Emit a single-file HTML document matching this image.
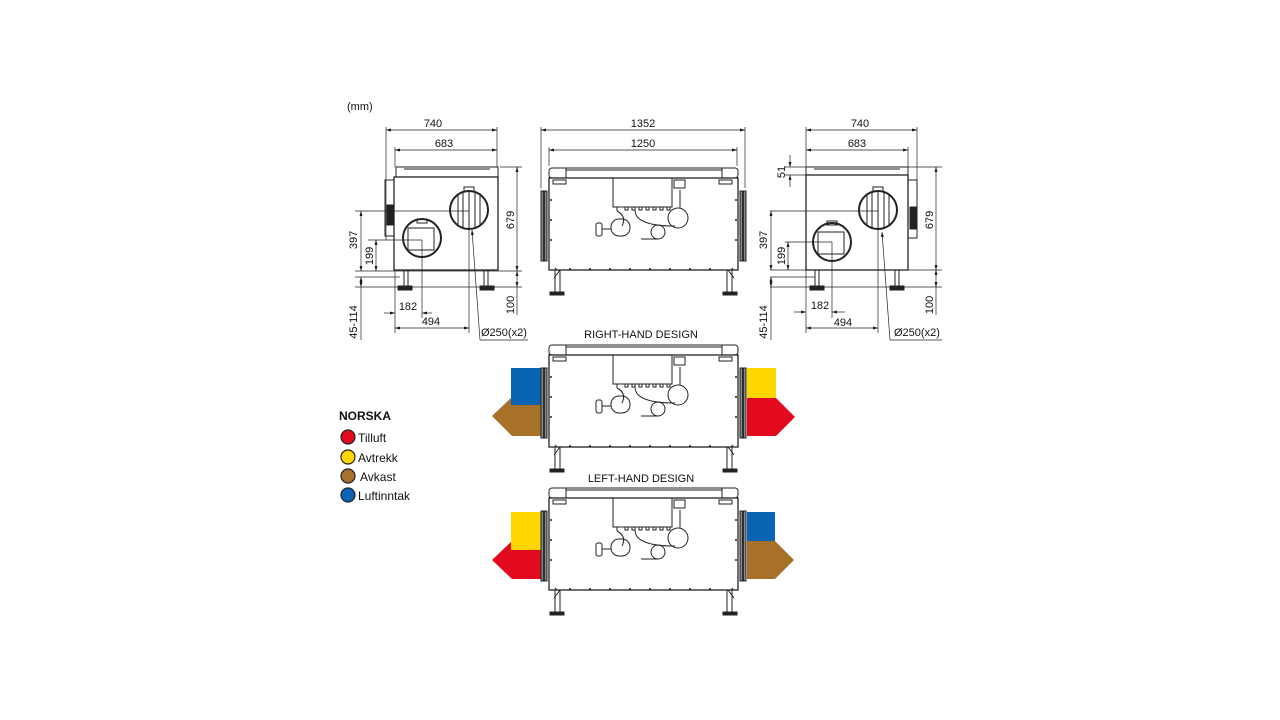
<!DOCTYPE html>
<html><head><meta charset="utf-8"><style>
html,body{margin:0;padding:0;background:#fff;}
svg{display:block;font-family:"Liberation Sans",sans-serif;}
text{font-size:11px;fill:#111;}
</style></head><body>
<svg width="1280" height="720" viewBox="0 0 1280 720" xmlns="http://www.w3.org/2000/svg">
<defs>
<marker id="a" viewBox="0 0 10 10" refX="10" refY="5" markerWidth="7" markerHeight="7" orient="auto-start-reverse"><path d="M0,2 L10,5 L0,8 z" fill="#111"/></marker>
<g id="unit" stroke="#222" fill="none" stroke-width="1">
  <rect x="549" y="168" width="189" height="10" rx="3" fill="#fff"/>
  <line x1="566" y1="170" x2="722" y2="170"/>
  <line x1="566" y1="168" x2="566" y2="178"/><line x1="722" y1="168" x2="722" y2="178"/>
  <rect x="549" y="178" width="189" height="92" fill="#fff" stroke-width="1.3"/>
  <rect x="553" y="180" width="13" height="4"/><rect x="719" y="180" width="13" height="4"/>
  <rect x="541" y="191" width="6" height="70" fill="#888" stroke="#222"/>
  <line x1="544" y1="191" x2="544" y2="261" stroke="#111" stroke-width="1.5"/>
  <rect x="740" y="191" width="6" height="70" fill="#888" stroke="#222"/>
  <line x1="743" y1="191" x2="743" y2="261" stroke="#111" stroke-width="1.5"/>
  <rect x="613" y="178" width="59" height="29"/>
  <rect x="674" y="180" width="11" height="8"/>
  <path d="M617 207 v4 M625 207 h3 v3 h-3z M632 207 h3 v3 h-3z M639 207 h3 v3 h-3z M646 207 h3 v3 h-3z M653 207 h3 v3 h-3z M660 207 h3 v3 h-3z M667 207 h3 v3 h-3z"/>
  <circle cx="678" cy="218" r="10"/><circle cx="658" cy="232" r="7"/>
  <path d="M635 210 q0 16 40 16 M680 190 v18 M617 211 q10 5 5 15 M641 239 h18"/>
  <rect x="611" y="219" width="19" height="17" rx="8"/>
  <rect x="596" y="223" width="6" height="13" rx="2"/><path d="M602 229 h9"/>
  <path d="M557 270 l-2 -2 M731 270 l2 -2 M560 270 l-6 8 M728 270 l6 8"/>
  <rect x="555" y="270" width="5" height="22"/><rect x="727" y="270" width="5" height="22"/>
  <rect x="550" y="292" width="14" height="3" fill="#222"/><rect x="723" y="292" width="14" height="3" fill="#222"/>
  <g fill="#222" stroke="none"><circle cx="570" cy="269" r="1"/><circle cx="590" cy="269" r="1"/><circle cx="610" cy="269" r="1"/><circle cx="630" cy="269" r="1"/><circle cx="650" cy="269" r="1"/><circle cx="670" cy="269" r="1"/><circle cx="690" cy="269" r="1"/><circle cx="710" cy="269" r="1"/><circle cx="551" cy="200" r="1"/><circle cx="551" cy="220" r="1"/><circle cx="551" cy="240" r="1"/><circle cx="736" cy="200" r="1"/><circle cx="736" cy="220" r="1"/><circle cx="736" cy="240" r="1"/></g>
</g>
</defs>

<text x="347" y="110">(mm)</text>

<!-- Left side view -->
<g stroke="#222" fill="none" stroke-width="1">
  <rect x="396" y="167" width="102" height="10" fill="#fff"/>
  <line x1="404" y1="169" x2="490" y2="169"/>
  <rect x="394" y="177" width="104" height="93" stroke-width="1.3"/>
  <rect x="385" y="180" width="9" height="56"/>
  <rect x="387" y="205" width="6" height="20" fill="#222"/>
  <circle cx="469" cy="210" r="19" stroke-width="2"/>
  <path d="M458 195 v30 M463 192 v36 M469 191 v38 M475 192 v36 M480 195 v30"/>
  <circle cx="422" cy="238" r="19" stroke-width="2"/>
  <rect x="408" y="228" width="26" height="22"/>
  <rect x="464" y="187" width="10" height="4"/><rect x="417" y="219" width="10" height="4"/>
  <rect x="404" y="270" width="4" height="16"/><rect x="484" y="270" width="4" height="16"/>
  <rect x="398" y="286" width="14" height="4" fill="#222"/><rect x="480" y="286" width="14" height="4" fill="#222"/>
  <g stroke-width="0.7">
  <line x1="386" y1="127" x2="386" y2="240"/><line x1="497" y1="127" x2="497" y2="167"/>
  <line x1="395" y1="147" x2="395" y2="167"/>
  <line x1="386" y1="130" x2="497" y2="130" marker-start="url(#a)" marker-end="url(#a)"/>
  <line x1="395" y1="150" x2="497" y2="150" marker-start="url(#a)" marker-end="url(#a)"/>
  <line x1="500" y1="167" x2="522" y2="167"/><line x1="355" y1="271" x2="522" y2="271"/>
  <line x1="517" y1="167" x2="517" y2="271" marker-start="url(#a)" marker-end="url(#a)"/>
  <line x1="355" y1="287" x2="522" y2="287"/><line x1="355" y1="277" x2="400" y2="277"/>
  <line x1="517" y1="271" x2="517" y2="287" marker-start="url(#a)" marker-end="url(#a)"/>
  <line x1="517" y1="287" x2="517" y2="315"/>
  <line x1="355" y1="211" x2="469" y2="211"/><line x1="368" y1="240" x2="422" y2="240"/>
  <line x1="361" y1="211" x2="361" y2="271" marker-start="url(#a)" marker-end="url(#a)"/>
  <line x1="376" y1="240" x2="376" y2="271" marker-start="url(#a)" marker-end="url(#a)"/>
  <line x1="361" y1="277" x2="361" y2="287" marker-start="url(#a)" marker-end="url(#a)"/>
  <line x1="361" y1="287" x2="361" y2="340"/>
  <line x1="422" y1="240" x2="422" y2="318"/><line x1="469" y1="211" x2="469" y2="333"/>
  <line x1="395" y1="271" x2="395" y2="333"/>
  <line x1="384" y1="313" x2="395" y2="313" marker-end="url(#a)"/><line x1="432" y1="313" x2="422" y2="313" marker-end="url(#a)"/>
  <line x1="395" y1="328" x2="469" y2="328" marker-start="url(#a)" marker-end="url(#a)"/>
  <line x1="480" y1="340" x2="472" y2="230" marker-end="url(#a)"/><line x1="480" y1="340" x2="528" y2="340"/>
  </g>
</g>
<text x="433" y="127" text-anchor="middle">740</text>
<text x="444" y="147" text-anchor="middle">683</text>
<text x="408" y="310" text-anchor="middle">182</text>
<text x="431" y="325" text-anchor="middle">494</text>
<text x="481" y="336">Ø250(x2)</text>
<text transform="translate(514,220) rotate(-90)" text-anchor="middle">679</text>
<text transform="translate(514,305) rotate(-90)" text-anchor="middle">100</text>
<text transform="translate(357,240) rotate(-90)" text-anchor="middle">397</text>
<text transform="translate(373,256) rotate(-90)" text-anchor="middle">199</text>
<text transform="translate(357,322) rotate(-90)" text-anchor="middle">45-114</text>

<!-- Right side view -->
<g stroke="#222" fill="none" stroke-width="1">
  <rect x="806" y="167" width="102" height="8" fill="#fff"/>
  <line x1="814" y1="169" x2="900" y2="169"/>
  <rect x="806" y="175" width="102" height="95" stroke-width="1.3"/>
  <rect x="908" y="180" width="9" height="58"/>
  <rect x="910" y="207" width="6" height="22" fill="#222"/>
  <circle cx="878" cy="210" r="19" stroke-width="2"/>
  <path d="M867 195 v30 M872 192 v36 M878 191 v38 M884 192 v36 M889 195 v30"/>
  <circle cx="832" cy="242" r="19" stroke-width="2"/>
  <rect x="818" y="232" width="26" height="22"/>
  <rect x="873" y="187" width="10" height="4"/><rect x="827" y="221" width="10" height="4"/>
  <rect x="815" y="270" width="4" height="16"/><rect x="895" y="270" width="4" height="16"/>
  <rect x="810" y="286" width="14" height="4" fill="#222"/><rect x="890" y="286" width="14" height="4" fill="#222"/>
  <g stroke-width="0.7">
  <line x1="806" y1="127" x2="806" y2="167"/><line x1="917" y1="127" x2="917" y2="180"/><line x1="908" y1="147" x2="908" y2="167"/>
  <line x1="806" y1="130" x2="917" y2="130" marker-start="url(#a)" marker-end="url(#a)"/>
  <line x1="806" y1="150" x2="908" y2="150" marker-start="url(#a)" marker-end="url(#a)"/>
  <line x1="785" y1="167" x2="942" y2="167"/><line x1="785" y1="175" x2="806" y2="175"/>
  <line x1="790" y1="155" x2="790" y2="167" marker-end="url(#a)"/><line x1="790" y1="187" x2="790" y2="175" marker-end="url(#a)"/>
  <line x1="936" y1="167" x2="936" y2="270" marker-start="url(#a)" marker-end="url(#a)"/>
  <line x1="770" y1="270" x2="942" y2="270"/><line x1="770" y1="287" x2="942" y2="287"/><line x1="770" y1="277" x2="815" y2="277"/>
  <line x1="936" y1="270" x2="936" y2="287" marker-start="url(#a)" marker-end="url(#a)"/>
  <line x1="936" y1="287" x2="936" y2="315"/>
  <line x1="770" y1="211" x2="878" y2="211"/><line x1="785" y1="242" x2="832" y2="242"/>
  <line x1="771" y1="211" x2="771" y2="270" marker-start="url(#a)" marker-end="url(#a)"/>
  <line x1="788" y1="242" x2="788" y2="270" marker-start="url(#a)" marker-end="url(#a)"/>
  <line x1="771" y1="277" x2="771" y2="287" marker-start="url(#a)" marker-end="url(#a)"/>
  <line x1="771" y1="287" x2="771" y2="340"/>
  <line x1="832" y1="242" x2="832" y2="318"/><line x1="878" y1="211" x2="878" y2="333"/><line x1="806" y1="270" x2="806" y2="333"/>
  <line x1="794" y1="312" x2="806" y2="312" marker-end="url(#a)"/><line x1="845" y1="312" x2="832" y2="312" marker-end="url(#a)"/>
  <line x1="806" y1="328" x2="878" y2="328" marker-start="url(#a)" marker-end="url(#a)"/>
  <line x1="890" y1="340" x2="882" y2="232" marker-end="url(#a)"/><line x1="890" y1="340" x2="942" y2="340"/>
  </g>
</g>
<text x="860" y="127" text-anchor="middle">740</text>
<text x="857" y="147" text-anchor="middle">683</text>
<text x="820" y="309" text-anchor="middle">182</text>
<text x="843" y="326" text-anchor="middle">494</text>
<text x="894" y="336">Ø250(x2)</text>
<text transform="translate(785,172) rotate(-90)" text-anchor="middle">51</text>
<text transform="translate(933,220) rotate(-90)" text-anchor="middle">679</text>
<text transform="translate(933,305) rotate(-90)" text-anchor="middle">100</text>
<text transform="translate(767,240) rotate(-90)" text-anchor="middle">397</text>
<text transform="translate(785,256) rotate(-90)" text-anchor="middle">199</text>
<text transform="translate(767,322) rotate(-90)" text-anchor="middle">45-114</text>

<!-- Front view top -->
<use href="#unit"/>
<g stroke="#222" stroke-width="0.7" fill="none">
  <line x1="541" y1="127" x2="541" y2="188"/><line x1="745" y1="127" x2="745" y2="188"/>
  <line x1="549" y1="147" x2="549" y2="166"/><line x1="737" y1="147" x2="737" y2="166"/>
  <line x1="541" y1="130" x2="745" y2="130" marker-start="url(#a)" marker-end="url(#a)"/>
  <line x1="549" y1="150" x2="737" y2="150" marker-start="url(#a)" marker-end="url(#a)"/>
</g>
<text x="643" y="127" text-anchor="middle">1352</text>
<text x="643" y="147" text-anchor="middle">1250</text>

<!-- Right-hand design -->
<text x="641" y="338" text-anchor="middle">RIGHT-HAND DESIGN</text>
<polygon points="512,397 541,397 541,436 512,436 492,416" fill="#a8712a"/>
<rect x="511" y="368" width="30" height="37" fill="#0a64b4"/>
<rect x="747" y="368" width="29" height="30" fill="#ffd600"/>
<polygon points="747,398 776,398 795,417 776,436 747,436" fill="#e30a20"/>
<use href="#unit" y="177"/>

<!-- Left-hand design -->
<text x="641" y="482" text-anchor="middle">LEFT-HAND DESIGN</text>
<polygon points="512,541 541,541 541,579 512,579 492,560" fill="#e30a20"/>
<rect x="511" y="512" width="30" height="38" fill="#ffd600"/>
<rect x="747" y="512" width="28" height="29" fill="#0a64b4"/>
<polygon points="747,541 775,541 794,560 775,579 747,579" fill="#a8712a"/>
<use href="#unit" y="320"/>

<!-- Legend -->
<text x="339" y="420" style="font-size:12px;font-weight:bold">NORSKA</text>
<g stroke="#222" stroke-width="1.2">
<circle cx="348" cy="437" r="7" fill="#e30a20"/>
<circle cx="348" cy="457" r="7" fill="#ffd600"/>
<circle cx="348" cy="476" r="7" fill="#a8712a"/>
<circle cx="348" cy="495" r="7" fill="#0a64b4"/>
</g>
<text x="358" y="442" style="font-size:12px">Tilluft</text>
<text x="358" y="462" style="font-size:12px">Avtrekk</text>
<text x="360" y="481" style="font-size:12px">Avkast</text>
<text x="358" y="500" style="font-size:12px">Luftinntak</text>
</svg>
</body></html>
